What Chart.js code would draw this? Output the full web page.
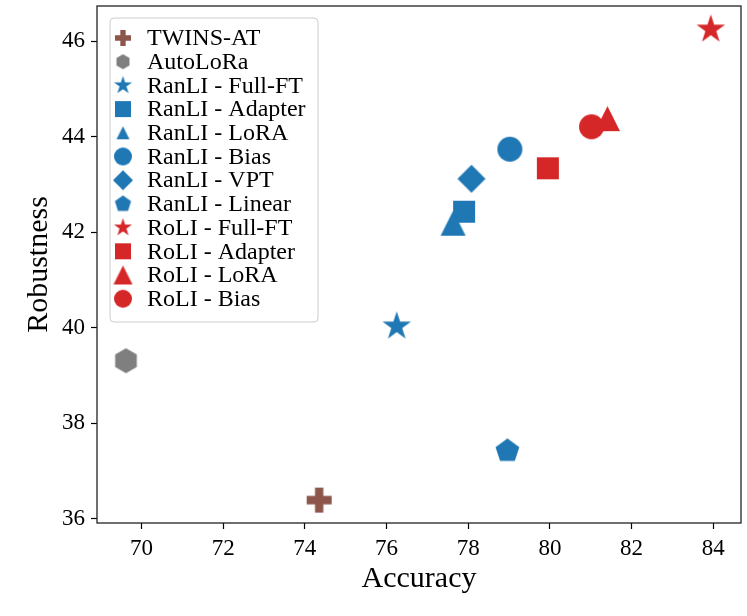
<!DOCTYPE html>
<html>
<head>
<meta charset="utf-8">
<script src="https://cdn.jsdelivr.net/npm/chart.js@4.4.0/dist/chart.umd.min.js"></script>
<style>
  html, body { margin: 0; padding: 0; background: #fff; }
  #wrap { position: relative; width: 747px; height: 616px; }
</style>
</head>
<body>
<div id="wrap"><canvas id="chart" width="747" height="616"></canvas></div>
<script>
// data
const methods = [
    'TWINS-AT', 'AutoLoRa',
    'RanLI - Full-FT', 'RanLI - Adapter', 'RanLI - LoRA', 'RanLI - Bias', 'RanLI - VPT', 'RanLI - Linear',
    'RoLI - Full-FT', 'RoLI - Adapter', 'RoLI - LoRA', 'RoLI - Bias'
];
const accuracy   = [74.35, 69.62, 76.25, 77.90, 77.63, 79.02, 78.08, 78.96, 83.94, 79.95, 81.41, 81.02];
const robustness = [36.39, 39.31, 40.03, 42.43, 42.19, 43.74, 43.12, 37.42, 46.25, 43.34, 44.38, 44.21];
const xTicks = [70, 72, 74, 76, 78, 80, 82, 84];
const yTicks = [36, 38, 40, 42, 44, 46];

// marker look per method (matplotlib-ish)
const shapes = ['plus', 'hexagon', 'star', 'square', 'triangle', 'circle', 'diamond', 'pentagon',
                'star', 'square', 'triangle', 'circle'];
const colors = ['#8c564b', '#7f7f7f', '#1f77b4', '#1f77b4', '#1f77b4', '#1f77b4', '#1f77b4', '#1f77b4',
                '#d62728', '#d62728', '#d62728', '#d62728'];
const plotSize = { plus: 25, hexagon: 25, star: 30, square: 22, triangle: 25, circle: 25, diamond: 28, pentagon: 25 };
const legendSize = [16, 15, 19, 16, 13, 18, 20, 17, 19, 16, 19, 18];

const SERIF = '"Liberation Serif", "Times New Roman", Times, serif';

function makeMarker(shape, color, size) {
    const pad = 2;
    const c = document.createElement('canvas');
    const dim = Math.ceil(size) + pad * 2;
    c.width = dim;
    c.height = dim;
    const g = c.getContext('2d');
    const cx = dim / 2, cy = dim / 2, r = size / 2;
    g.fillStyle = color;
    g.beginPath();
    if (shape === 'circle') {
        g.arc(cx, cy, r, 0, Math.PI * 2);
    } else if (shape === 'square') {
        g.rect(cx - r, cy - r, size, size);
    } else if (shape === 'diamond') {
        g.moveTo(cx, cy - r); g.lineTo(cx + r, cy); g.lineTo(cx, cy + r); g.lineTo(cx - r, cy);
    } else if (shape === 'triangle') {
        g.moveTo(cx, cy - r); g.lineTo(cx + r, cy + r); g.lineTo(cx - r, cy + r);
    } else if (shape === 'plus') {
        const t = size / 6;
        g.moveTo(cx - t, cy - r); g.lineTo(cx + t, cy - r); g.lineTo(cx + t, cy - t);
        g.lineTo(cx + r, cy - t); g.lineTo(cx + r, cy + t); g.lineTo(cx + t, cy + t);
        g.lineTo(cx + t, cy + r); g.lineTo(cx - t, cy + r); g.lineTo(cx - t, cy + t);
        g.lineTo(cx - r, cy + t); g.lineTo(cx - r, cy - t); g.lineTo(cx - t, cy - t);
    } else if (shape === 'star') {
        for (let i = 0; i < 10; i++) {
            const rr = i % 2 === 0 ? r : r * 0.381966;
            const a = -Math.PI / 2 + i * Math.PI / 5;
            g.lineTo(cx + rr * Math.cos(a), cy + rr * Math.sin(a));
        }
    } else {
        // pentagon / hexagon, point up
        const n = shape === 'pentagon' ? 5 : 6;
        for (let i = 0; i < n; i++) {
            const a = -Math.PI / 2 + i * 2 * Math.PI / n;
            g.lineTo(cx + r * Math.cos(a), cy + r * Math.sin(a));
        }
    }
    g.closePath();
    g.fill();
    return c;
}

const datasets = methods.map((name, i) => ({
    label: name,
    data: [{ x: accuracy[i], y: robustness[i] }],
    pointStyle: makeMarker(shapes[i], colors[i], plotSize[shapes[i]]),
    legendMarker: makeMarker(shapes[i], colors[i], legendSize[i]),
    backgroundColor: colors[i],
    borderColor: colors[i],
    order: -i  // later methods drawn on top, like matplotlib
}));

// box around the plot, like matplotlib spines
const frame = {
    id: 'frame',
    afterDatasetsDraw(chart) {
        const { ctx, chartArea: a } = chart;
        ctx.save();
        ctx.strokeStyle = '#222';
        ctx.lineWidth = 1.3;
        ctx.strokeRect(a.left, a.top, a.right - a.left, a.bottom - a.top);
        ctx.restore();
    }
};

// legend drawn inside the plot, top-left
const insideLegend = {
    id: 'insideLegend',
    afterDraw(chart) {
        const { ctx, chartArea: a } = chart;
        const x0 = a.left + 13, y0 = a.top + 12, w = 208, h = 304;
        const rowH = 23.7;
        ctx.save();
        ctx.beginPath();
        ctx.roundRect(x0, y0, w, h, 4);
        ctx.fillStyle = 'rgba(255,255,255,0.8)';
        ctx.fill();
        ctx.strokeStyle = '#cccccc';
        ctx.lineWidth = 1;
        ctx.stroke();
        ctx.font = '24px ' + SERIF;
        ctx.fillStyle = '#000';
        ctx.textBaseline = 'middle';
        chart.data.datasets.forEach((ds, i) => {
            const cy = y0 + 20 + i * rowH;
            const m = ds.legendMarker;
            ctx.drawImage(m, x0 + 13 - m.width / 2, cy - m.height / 2);
            ctx.fillText(ds.label, x0 + 37, cy + 1);
        });
        ctx.restore();
    }
};

new Chart(document.getElementById('chart'), {
    type: 'scatter',
    data: { datasets: datasets },
    options: {
        responsive: false,
        animation: false,
        devicePixelRatio: 1,
        layout: { autoPadding: false, padding: { top: 6, right: 6, left: 0, bottom: 0 } },
        elements: { point: { radius: 12 } },
        plugins: {
            legend: { display: false },
            tooltip: { enabled: false }
        },
        scales: {
            x: {
                type: 'linear',
                min: 68.91,
                max: 84.68,
                afterBuildTicks: s => { s.ticks = xTicks.map(v => ({ value: v })); },
                afterFit: s => { s.height = 93; s.paddingLeft = 0; s.paddingRight = 0; },
                border: { display: false },
                grid: { drawOnChartArea: false, drawTicks: true, tickLength: 6, tickColor: '#000', tickWidth: 1.2 },
                ticks: { color: '#000', padding: 6, font: { family: SERIF, size: 23 } },
                title: {
                    display: true, text: 'Accuracy', color: '#000',
                    font: { family: SERIF, size: 30 },
                    padding: { top: 0, bottom: 19 }
                }
            },
            y: {
                type: 'linear',
                min: 35.91,
                max: 46.74,
                afterBuildTicks: s => { s.ticks = yTicks.map(v => ({ value: v })); },
                afterFit: s => { s.width = 97; s.paddingTop = 0; s.paddingBottom = 0; },
                border: { display: false },
                grid: { drawOnChartArea: false, drawTicks: true, tickLength: 6, tickColor: '#000', tickWidth: 1.2 },
                ticks: { color: '#000', padding: 6, font: { family: SERIF, size: 23 } },
                title: {
                    display: true, text: 'Robustness', color: '#000',
                    font: { family: SERIF, size: 30 },
                    padding: { top: 21, bottom: 0 }
                }
            }
        }
    },
    plugins: [frame, insideLegend]
});
</script>
</body>
</html>
